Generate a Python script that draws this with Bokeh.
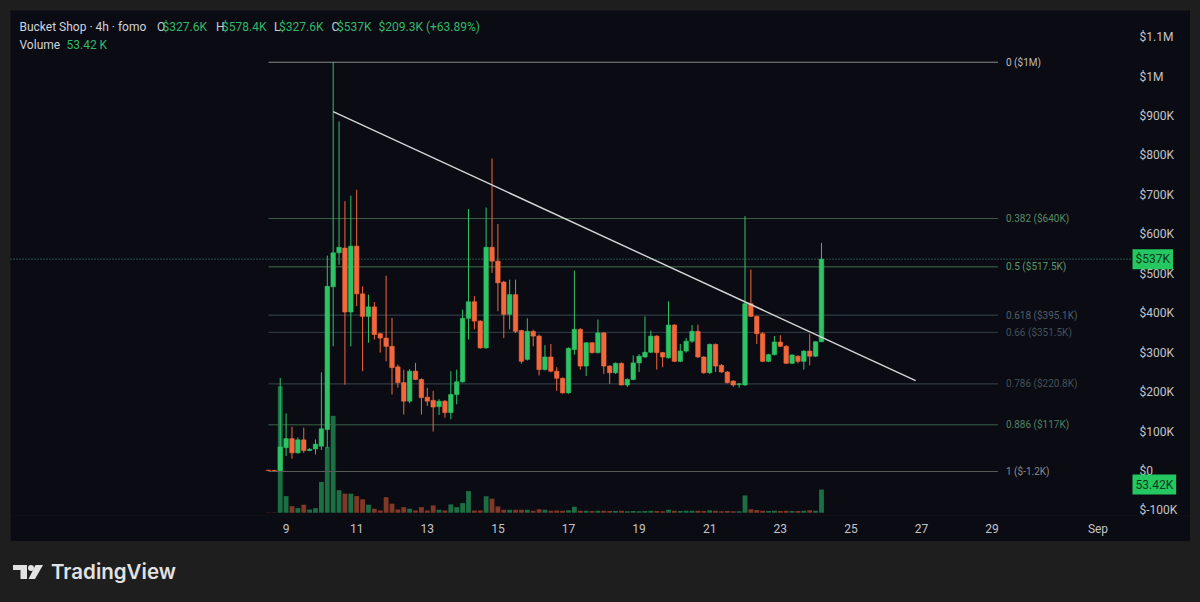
import numpy as np
import pandas as pd
from bokeh.plotting import figure
from bokeh.models import Range1d, FixedTicker, Span, Label, ColumnDataSource, Div
from bokeh.layouts import column
from bokeh.embed import file_html
from bokeh.resources import INLINE
from bokeh.core.properties import value

# ---------------- data (prices and volumes in thousands of $) ----------------
candle_start = "2024-08-08 12:00"   # first 4h candle
opens = [2, 1.5, 1, 59, 82, 46, 79, 52, 56, 63, 105, 467, 553, 565, 403, 570, 449, 392, 416, 348,
         337, 316, 264, 224, 177, 253, 232, 187, 179, 163, 177, 148, 194, 226, 387, 429, 380, 312, 567, 532,
         479, 397, 447, 356, 283, 354, 342, 257, 289, 253, 235, 198, 308, 359, 266, 325, 300, 350, 266, 249,
         273, 218, 232, 274, 289, 301, 342, 300, 287, 370, 278, 304, 329, 354, 289, 249, 321, 268, 251, 228,
         219, 218, 424, 392, 348, 278, 295, 327, 316, 273, 291, 278, 304, 291, 327.6]
highs = [2.5, 2, 236, 146, 112, 85, 110, 58, 80, 250, 546, 1036.2, 886, 684, 698, 713, 468, 447, 428, 350,
         495, 388, 270, 257, 258, 274, 235, 211, 203, 182, 180, 253, 257, 409, 664, 443, 382, 668, 792, 626,
         482, 485, 485, 358, 387, 358, 346, 319, 322, 263, 237, 313, 508, 362, 327, 327, 384, 352, 268, 275,
         275, 235, 293, 296, 392, 356, 344, 302, 430, 372, 322, 337, 370, 371, 291, 323, 323, 271, 253, 230,
         223, 646, 511, 394, 352, 297, 342, 344, 319, 296, 293, 306, 348, 329, 578.4]
lows = [0.5, 0.5, 0.5, 38, 31, 44, 46, 50, 42, 53, 59, 316, 523, 219, 316, 418, 253, 325, 333, 300,
        278, 194, 211, 143, 172, 230, 143, 165, 100, 142, 135, 131, 169, 224, 333, 359, 310, 310, 502, 405,
        337, 359, 350, 272, 280, 316, 242, 255, 250, 203, 196, 196, 295, 257, 241, 298, 298, 246, 221, 246,
        217, 213, 230, 251, 287, 299, 257, 263, 285, 276, 276, 300, 325, 287, 246, 246, 251, 249, 222, 213,
        211, 216, 390, 322, 276, 276, 293, 314, 271, 271, 273, 257, 268, 289, 327.6]
closes = [1.5, 1, 61, 82, 46, 79, 52, 55, 68, 107, 468, 553, 567, 403, 570, 449, 392, 416, 346, 337,
          316, 262, 224, 177, 253, 232, 186, 177, 162, 177, 148, 194, 226, 387, 429, 380, 312, 567, 532, 477,
          397, 447, 354, 278, 354, 342, 257, 289, 253, 235, 198, 311, 359, 266, 325, 300, 350, 266, 249, 273,
          218, 232, 274, 291, 301, 342, 300, 289, 370, 278, 304, 329, 354, 289, 249, 321, 266, 251, 224, 218,
          221, 424, 392, 348, 278, 295, 327, 316, 273, 294, 278, 304, 291, 327.6, 537]
volumes = [0.8, 0.8, 291, 38.5, 15.3, 10.7, 18.6, 7.7, 10.7, 71, 152, 223, 52, 44, 44, 38.5, 31, 18.6, 9.3, 5.3,
           36, 21, 7.7, 13, 9.3, 5.3, 13, 5.3, 17, 7, 5.3, 19.3, 13, 22.3, 50, 5.3, 5.3, 38, 32.5, 14.6,
           7, 7, 7, 7, 7, 4.6, 8, 7, 5, 5.5, 4.5, 6, 14, 5, 4.5, 4, 5, 4.5, 4, 4,
           4.5, 3.5, 4, 3.5, 4, 5, 4, 3.5, 7, 5, 4, 4.5, 5, 4.5, 4, 6, 4.5, 3.5, 4, 3.5,
           3.5, 40, 8, 6.5, 5, 4, 4.5, 4, 5, 4, 4, 5, 6, 5, 53.42]

price_ticks = [-100, 0, 100, 200, 300, 400, 500, 600, 700, 800, 900, 1000, 1100]
price_tick_labels = ["$-100K", "$0", "$100K", "$200K", "$300K", "$400K", "$500K", "$600K",
                     "$700K", "$800K", "$900K", "$1M", "$1.1M"]
date_ticks = ["2024-08-09", "2024-08-11", "2024-08-13", "2024-08-15", "2024-08-17", "2024-08-19",
              "2024-08-21", "2024-08-23", "2024-08-25", "2024-08-27", "2024-08-29", "2024-09-01"]
date_tick_labels = ["9", "11", "13", "15", "17", "19", "21", "23", "25", "27", "29", "Sep"]

fib_ratios = [0, 0.382, 0.5, 0.618, 0.66, 0.786, 0.886, 1]
fib_price_labels = ["$1M", "$640K", "$517.5K", "$395.1K", "$351.5K", "$220.8K", "$117K", "$-1.2K"]
fib_high = 1036.2
fib_low = -1.2
fib_span = ["2024-08-08 12:00", "2024-08-29 04:00"]

trend_times = ["2024-08-10 08:00", "2024-08-26 20:00"]
trend_prices = [911, 229]

title_text = "Bucket Shop · 4h · fomo"
ohlc_letters = ["O", "H", "L", "C"]
ohlc_values = ["$327.6K", "$578.4K", "$327.6K", "$537K"]
change_text = "$209.3K (+63.89%)"
volume_title = "Volume"
volume_value_text = "53.42 K"
last_price_text = "$537K"
last_volume_text = "53.42K"

# ---------------- styling ----------------
BG = "#0b0b13"
OUTER = "#1e1e1e"
UP, DOWN = "#2ec465", "#f2683c"
VUP, VDOWN = "#1c6e43", "#803827"
AXIS_TXT = "#c4c4c8"
GREEN_TXT = "#33b86a"
FONT = "Roboto"

fib_line_colors = ["#8a8a8a", "#3f5e49", "#41704f", "#3a4850", "#333f47", "#3a474d", "#3d634a", "#5c5c5c"]
fib_text_colors = ["#bdbdbd", "#578a66", "#5a9a6c", "#4f5f69", "#43525b", "#44525a", "#4f8262", "#8a8a8a"]

W, H = 1180, 531                          # figure sits at page (10, 10)
FL, FR, FT, FB = 0, 1180, 0, 505          # frame edges in figure pixels (price scale drawn over the frame)
SCALE_X = 1118                            # left edge of the price-scale strip
X9, PX_DAY = 275.6, 35.3                  # figure x of Aug 9 00:00, pixels per day
Y0, PX_K = 460.5, 0.3945                  # figure y of $0, pixels per $1K
VOL_BASE, VOL_PER_PX = 502.3, 2.3

DAY0 = pd.Timestamp("2024-07-31")


def to_day(ts):
    return (pd.to_datetime(ts) - DAY0) / pd.Timedelta(days=1)


def day_at(fx):
    return 9 + (fx - X9) / PX_DAY


def price_at(fy):
    return (Y0 - fy) / PX_K


times = pd.date_range(candle_start, periods=len(opens), freq="4h")
days = np.asarray(to_day(times), dtype=float)
bar_w = 1 / 6

rising = [c >= o for o, c in zip(opens, closes)]
src = ColumnDataSource(dict(
    t=days, o=opens, h=highs, l=lows, c=closes,
    top=np.maximum(opens, closes), bot=np.minimum(opens, closes),
    col=[UP if r else DOWN for r in rising],
    vol=volumes, vcol=[VUP if r else VDOWN for r in rising],
))

p = figure(width=W, height=H,
           x_range=Range1d(day_at(FL), day_at(FR)),
           y_range=Range1d(price_at(FB), price_at(FT)),
           y_axis_location="right",
           output_backend="svg", toolbar_location=None,
           background_fill_color=BG, border_fill_color=BG, outline_line_color=None,
           min_border_left=FL, min_border_top=FT, min_border_right=0, min_border_bottom=H - FB)
p.grid.visible = False
p.extra_y_ranges = {"vol": Range1d(-(FB - VOL_BASE) * VOL_PER_PX, (VOL_BASE - FT) * VOL_PER_PX)}

# axes
yax = p.yaxis[0]
yax.ticker = FixedTicker(ticks=price_ticks)
yax.major_label_overrides = dict(zip(price_ticks, price_tick_labels))
xax = p.xaxis[0]
tick_days = [float(to_day(d)) for d in date_ticks]
xax.ticker = FixedTicker(ticks=tick_days)
xax.major_label_overrides = dict(zip(tick_days, date_tick_labels))
for ax in (xax, yax):
    ax.axis_line_color = None
    ax.major_tick_line_color = None
    ax.minor_tick_line_color = None
    ax.major_tick_out = 0
    ax.major_tick_in = 0
    ax.major_label_text_color = AXIS_TXT
    ax.major_label_text_font = FONT
    ax.major_label_text_font_size = "12px"
yax.major_label_standoff = (SCALE_X + 11) - W     # labels drawn back over the price-scale strip
xax.major_label_standoff = 6

# volume
p.vbar(x="t", width=bar_w * 0.82, top="vol", bottom=0, y_range_name="vol",
       fill_color="vcol", line_color=None, source=src)

# fibonacci retracement
fib_prices = [fib_high - r * (fib_high - fib_low) for r in fib_ratios]
fx0, fx1 = [float(to_day(t)) for t in fib_span]
p.segment(x0=[fx0] * len(fib_prices), y0=fib_prices, x1=[fx1] * len(fib_prices), y1=fib_prices,
          line_color=fib_line_colors, line_width=1)
p.text(x=[fx1] * len(fib_prices), y=fib_prices,
       text=[f"{r} ({lab})" for r, lab in zip(fib_ratios, fib_price_labels)],
       x_offset=8, text_baseline="middle", text_align="left",
       text_font=value(FONT), text_font_size="10px", text_color=fib_text_colors)

# last price line (stops at the price scale)
p.segment(x0=[day_at(FL)], y0=[closes[-1]], x1=[day_at(SCALE_X + 4)], y1=[closes[-1]],
          line_color="#3f9580", line_dash="1 2", line_width=1)

# candles
p.segment(x0="t", y0="l", x1="t", y1="h", line_color="col", line_width=1, source=src)
p.vbar(x="t", width=bar_w * 0.76, top="top", bottom="bot", fill_color="col",
       line_color="col", line_width=0.6, source=src)

# trend line
p.line([float(to_day(t)) for t in trend_times], trend_prices, line_color="#d6d6d6", line_width=1.4)


# header legend
def hlabel(fx, fy, text, color, size="12px"):
    p.add_layout(Label(x=day_at(fx), y=price_at(fy), text=text, text_color=color,
                       text_font=FONT, text_font_size=size, text_baseline="middle",
                       text_align="left"))


hlabel(9, 16.7, title_text, "#d1d4dc")
letter_x = [146.5, 205.5, 263.5, 321]
value_x = [152, 211.5, 268.5, 326.5]
for lx, vx, letter, val in zip(letter_x, value_x, ohlc_letters, ohlc_values):
    hlabel(lx, 16.7, letter, "#c9ccd4")
    hlabel(vx, 16.7, val, GREEN_TXT)
hlabel(368, 16.7, change_text, GREEN_TXT)
hlabel(9, 34, volume_title, "#d1d4dc")
hlabel(56, 34, volume_value_text, GREEN_TXT)

# price-scale badges
for text, price in ((last_price_text, closes[-1]), (last_volume_text, price_at(474))):
    p.add_layout(Label(x=day_at(SCALE_X + 4), y=price, text=text,
                       text_color="#0b3a1d", text_font=FONT, text_font_size="12px",
                       text_baseline="middle", text_align="left",
                       background_fill_color="#25c760", padding=3))

logo_svg = ('<svg width="30" height="14" viewBox="0 0 30 14" style="margin-right:8px">'
            '<rect x="0" y="0" width="14" height="5" fill="#e2e2e2"/>'
            '<rect x="7.5" y="0" width="6.5" height="14" fill="#e2e2e2"/>'
            '<circle cx="18" cy="3" r="3" fill="#e2e2e2"/>'
            '<polygon points="22.5,0 30,0 22,14 15.5,14" fill="#e2e2e2"/></svg>')
logo = Div(text=f'{logo_svg}<span>TradingView</span>', width=W, height=61, margin=0,
           styles={"display": "flex", "align-items": "center", "padding-left": "3px",
                   "font-family": "Inter, 'Noto Sans', sans-serif", "font-weight": "600",
                   "font-size": "20.5px", "color": "#e2e2e2", "background-color": OUTER,
                   "box-sizing": "border-box"})

layout = column(p, logo, spacing=0, margin=(10, 10, 0, 10))
html = file_html(layout, INLINE, title="Bucket Shop 4h")
html = html.replace("</head>", f"<style>html,body{{background:{OUTER};}}</style></head>", 1)
open("out.html", "w").write(html)
